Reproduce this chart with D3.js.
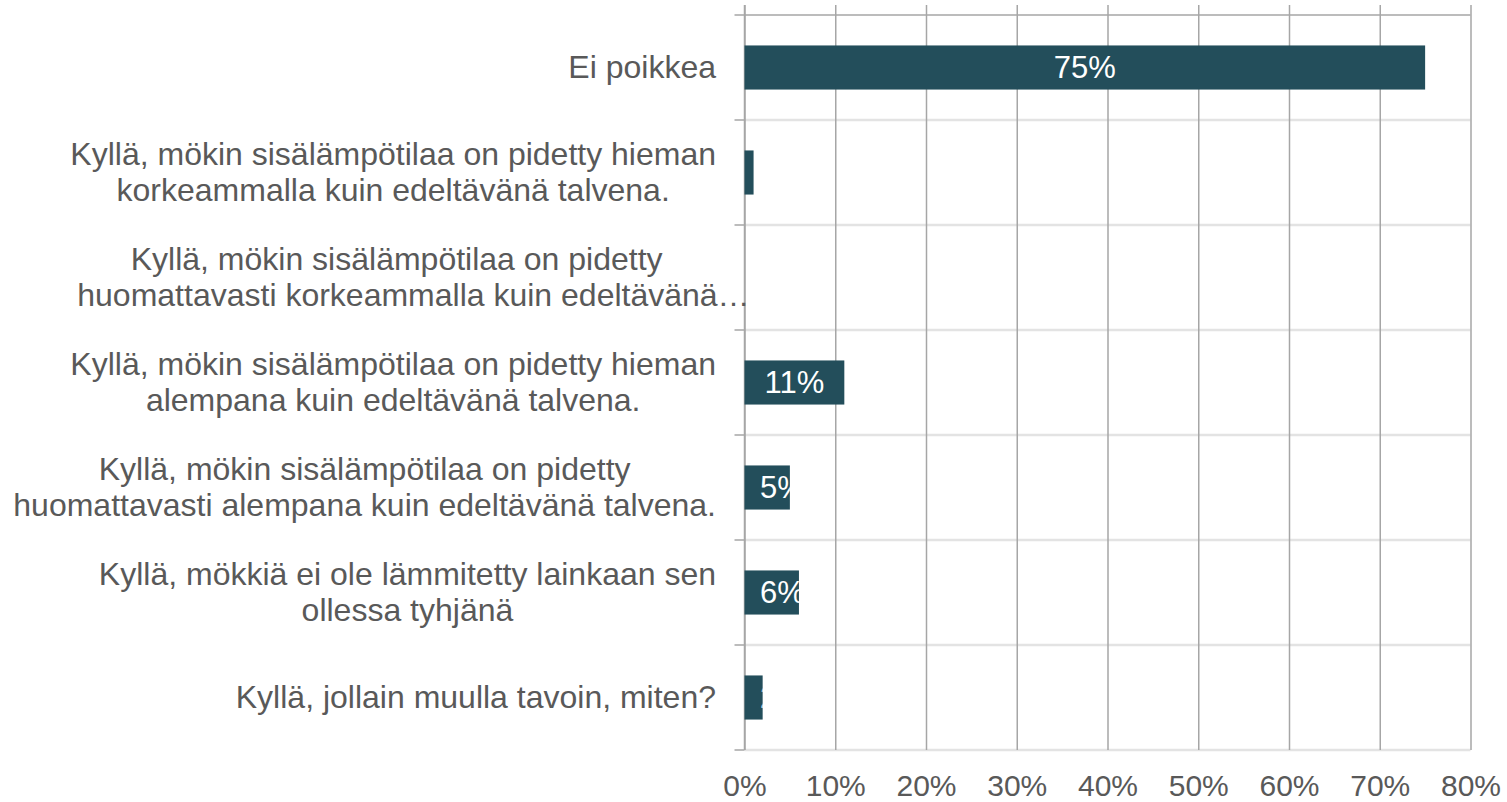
<!DOCTYPE html>
<html>
<head>
<meta charset="utf-8">
<script src="https://cdn.jsdelivr.net/npm/d3@7"></script>
<style>
  body { margin: 0; background: #fff; }
  text { font-family: "Liberation Sans", Arial, sans-serif; }
</style>
</head>
<body>
<div id="chart"></div>
<script>
// categories (line breaks as in the original labels)
var categories = [
  ["Ei poikkea"],
  ["Kyllä, mökin sisälämpötilaa on pidetty hieman", "korkeammalla kuin edeltävänä talvena."],
  ["Kyllä, mökin sisälämpötilaa on pidetty", "huomattavasti korkeammalla kuin edeltävänä…"],
  ["Kyllä, mökin sisälämpötilaa on pidetty hieman", "alempana kuin edeltävänä talvena."],
  ["Kyllä, mökin sisälämpötilaa on pidetty", "huomattavasti alempana kuin edeltävänä talvena."],
  ["Kyllä, mökkiä ei ole lämmitetty lainkaan sen", "ollessa tyhjänä"],
  ["Kyllä, jollain muulla tavoin, miten?"]
];
var values = [0.75, 0.01, 0, 0.11, 0.05, 0.06, 0.02];
var valueLabels = ["75%", "", "", "11%", "5%", "6%", "2%"];
var xTicks = [0, 0.1, 0.2, 0.3, 0.4, 0.5, 0.6, 0.7, 0.8];

var width = 1507, height = 802;
var plot = {left: 744.5, right: 1470.5, top: 15, bottom: 750};

var svg = d3.select("#chart")
  .append("svg")
    .attr("width", width)
    .attr("height", height);

var keys = categories.map(function(d, i) { return i; });

var x = d3.scaleLinear()
    .domain([0, 0.8])
    .range([plot.left, plot.right]);

var y = d3.scaleBand()
    .domain(keys)
    .range([plot.top, plot.bottom])
    .paddingInner(0.58)
    .paddingOuter(0.29);

var step = y.step();
function boundary(i) { return plot.top + i * step; }

// horizontal lines between categories
svg.append("g")
  .selectAll("line")
  .data(d3.range(1, keys.length + 1))
  .enter().append("line")
    .attr("x1", plot.left)
    .attr("x2", plot.right)
    .attr("y1", function(d) { return boundary(d); })
    .attr("y2", function(d) { return boundary(d); })
    .style("stroke", "#e3e3e3")
    .style("stroke-width", 2.5);

// top line
svg.append("line")
    .attr("x1", plot.left)
    .attr("x2", plot.right)
    .attr("y1", plot.top)
    .attr("y2", plot.top)
    .style("stroke", "#a6a6a6")
    .style("stroke-width", 1.5);

// x axis: vertical gridlines + tick labels
var xAxis = svg.append("g")
    .attr("transform", "translate(0," + plot.bottom + ")")
    .call(d3.axisBottom(x)
      .tickValues(xTicks)
      .tickSize(-(plot.bottom - 5))
      .tickFormat(d3.format(".0%")));
xAxis.select(".domain").remove();
xAxis.selectAll(".tick line")
    .style("stroke", "#a6a6a6")
    .style("stroke-width", 1.5);
xAxis.selectAll(".tick text")
    .attr("y", 46)
    .attr("dy", 0)
    .style("font-size", "30px")
    .style("fill", "#595959");

// category axis line and ticks
svg.append("line")
    .attr("x1", plot.left)
    .attr("x2", plot.left)
    .attr("y1", 5)
    .attr("y2", plot.bottom)
    .style("stroke", "#a6a6a6")
    .style("stroke-width", 1.5);
svg.append("g")
  .selectAll("line")
  .data(d3.range(0, keys.length + 1))
  .enter().append("line")
    .attr("x1", plot.left - 10)
    .attr("x2", plot.left)
    .attr("y1", function(d) { return boundary(d); })
    .attr("y2", function(d) { return boundary(d); })
    .style("stroke", "#a6a6a6")
    .style("stroke-width", 1.5);

// category labels: block right aligned, lines centered inside
// (a cut line with "…" starts at the block's left edge and runs over, like Excel)
var labelRight = 716, lineH = 36;
var labels = svg.append("g")
  .selectAll("g")
  .data(keys)
  .enter().append("g");
labels.each(function(i) {
  var g = d3.select(this);
  var lines = categories[i];
  var cy = y(i) + y.bandwidth() / 2;
  var tx = lines.map(function(l, j) {
    return g.append("text")
      .attr("y", cy + (j - (lines.length - 1) / 2) * lineH)
      .attr("dy", "0.33em")
      .style("font-size", "32px")
      .style("fill", "#595959")
      .text(l);
  });
  var w = d3.max(tx, function(t) { return t.node().getComputedTextLength(); });
  var cut = lines.some(function(l) { return l.slice(-1) === "…"; });
  if (cut) w = w * 0.95;
  tx.forEach(function(t, j) {
    if (cut && lines[j].slice(-1) === "…") {
      t.attr("text-anchor", "start").attr("x", labelRight - w);
    } else {
      t.attr("text-anchor", "middle").attr("x", labelRight - w / 2);
    }
  });
});

// bars
var defs = svg.append("defs");
defs.selectAll("clipPath")
  .data(keys)
  .enter().append("clipPath")
    .attr("id", function(i) { return "clip" + i; })
  .append("rect")
    .attr("x", x(0))
    .attr("y", function(i) { return y(i); })
    .attr("width", function(i) { return x(values[i]) - x(0); })
    .attr("height", y.bandwidth());

svg.append("g")
  .selectAll("rect")
  .data(keys)
  .enter().append("rect")
    .attr("x", x(0))
    .attr("y", function(i) { return y(i); })
    .attr("width", function(i) { return x(values[i]) - x(0); })
    .attr("height", y.bandwidth())
    .style("fill", "#234e5b");

// value labels
svg.append("g")
  .selectAll("text")
  .data(keys.filter(function(i) { return valueLabels[i] !== ""; }))
  .enter().append("text")
    .attr("clip-path", function(i) { return "url(#clip" + i + ")"; })
    .attr("y", function(i) { return y(i) + y.bandwidth() / 2; })
    .attr("dy", "0.35em")
    .attr("text-anchor", "middle")
    .style("font-size", "31px")
    .style("fill", "#ffffff")
    .text(function(i) { return valueLabels[i]; })
    .attr("x", function(i) {
      var w = this.getComputedTextLength();
      var c = (x(0) + x(values[i])) / 2;
      return Math.max(c, x(0) + 15.5 + w / 2);
    });
</script>
</body>
</html>
